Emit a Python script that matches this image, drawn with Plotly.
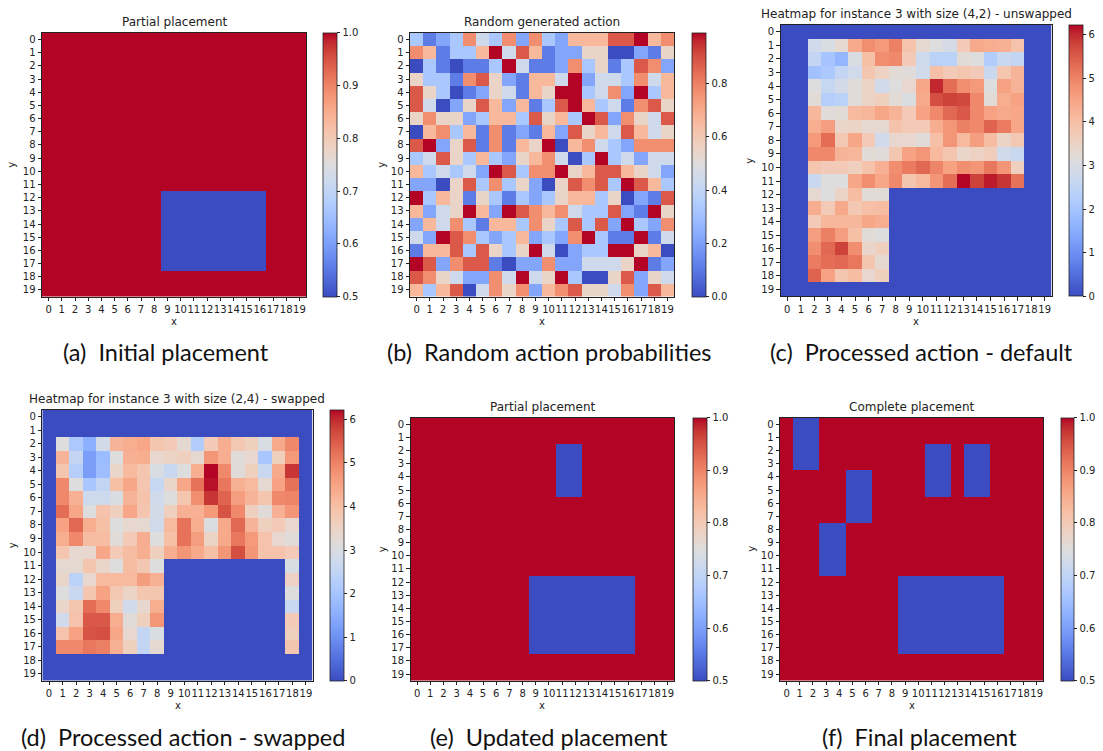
import plotly.graph_objects as go

W, H = 1103, 751

# matplotlib "coolwarm" colour table
CW = [
    (0.0, (0.2298057, 0.298717966, 0.753683153)),
    (0.03125, (0.26623388, 0.353094838, 0.801466763)),
    (0.0625, (0.30386891, 0.406535296, 0.84495867)),
    (0.09375, (0.342804478, 0.458757618, 0.883725899)),
    (0.125, (0.38301334, 0.50941904, 0.917387822)),
    (0.15625, (0.424369608, 0.558148092, 0.945619588)),
    (0.1875, (0.46666708, 0.604562568, 0.968154911)),
    (0.21875, (0.509635204, 0.648280772, 0.98478814)),
    (0.25, (0.552953156, 0.688929332, 0.995375608)),
    (0.28125, (0.596262162, 0.726149107, 0.999836203)),
    (0.3125, (0.639176211, 0.759599947, 0.998151185)),
    (0.34375, (0.681291281, 0.788964712, 0.990363227)),
    (0.375, (0.722193294, 0.813952739, 0.976574709)),
    (0.40625, (0.761464949, 0.834302879, 0.956945269)),
    (0.4375, (0.798691636, 0.849786142, 0.931688648)),
    (0.46875, (0.833466556, 0.860207984, 0.901068838)),
    (0.5, (0.865395197, 0.86541021, 0.865395561)),
    (0.53125, (0.897787179, 0.848937047, 0.820880546)),
    (0.5625, (0.924127593, 0.827384882, 0.774508472)),
    (0.59375, (0.944468518, 0.800927443, 0.726736146)),
    (0.625, (0.958852946, 0.769767752, 0.678007945)),
    (0.65625, (0.96732803, 0.734132809, 0.628751763)),
    (0.6875, (0.969954137, 0.694266682, 0.579375448)),
    (0.71875, (0.966811177, 0.650421156, 0.530263762)),
    (0.75, (0.958003065, 0.602842431, 0.481775914)),
    (0.78125, (0.943660866, 0.551750968, 0.434243684)),
    (0.8125, (0.923944917, 0.49730856, 0.387970225)),
    (0.84375, (0.89904617, 0.439559467, 0.343229596)),
    (0.875, (0.869186849, 0.378313092, 0.300267182)),
    (0.90625, (0.834620542, 0.312874446, 0.259301199)),
    (0.9375, (0.795631745, 0.24128379, 0.220525627)),
    (0.96875, (0.752534934, 0.157246067, 0.184115123)),
    (1.0, (0.705673158, 0.01555616, 0.150232812)),
]
COOLWARM = [[p, "rgb(%d,%d,%d)" % tuple(round(v * 255) for v in c)] for p, c in CW]

CELLS = list(range(20))

# ---- placements: free = 1.0, occupied = 0.5 ; blocks = (col, row, width, height)
FREE, TAKEN = 1.0, 0.5
A_BLOCKS = [(9, 12, 8, 6)]
E_BLOCKS = [(11, 2, 2, 4), (9, 12, 8, 6)]
F_BLOCKS = [(1, 0, 2, 4), (5, 4, 2, 4), (3, 8, 2, 4), (11, 2, 2, 4), (14, 2, 2, 4), (9, 12, 8, 6)]

# ---- (b) random action probabilities
B_ROWS = [
    [.33,.11,.22,.33,.77,.44,.33,.77,.22,.77,.33,.22,.66,.66,.66,.88,.88,.99,.66,.77],
    [.77,.66,.11,.33,.33,.66,.99,.44,.88,.66,.11,.22,.22,.55,.55,.00,.00,.22,.11,.55],
    [.00,.33,.11,.00,.11,.11,.33,.99,.44,.11,.11,.22,.77,.33,.55,.11,.33,.88,.77,.22],
    [.55,.33,.33,.11,.77,.88,.55,.22,.11,.66,.66,.44,.99,.22,.44,.44,.33,.77,.44,.66],
    [.88,.55,.33,.00,.11,.22,.55,.44,.11,.66,.55,.99,.99,.33,.44,.77,.22,.99,.33,.66],
    [.88,.44,.00,.22,.55,.88,.66,.22,.66,.11,.33,.88,.99,.66,.33,.44,.11,.77,.88,.55],
    [.55,.77,.55,.55,.22,.33,.66,.66,.33,.88,.55,.66,.33,.99,.88,.22,.77,.55,.44,.88],
    [.00,.66,.77,.33,.66,.11,.77,.11,.22,.11,.66,.22,.88,.55,.66,.44,.88,.66,.44,.55],
    [.88,.99,.22,.55,.88,.11,.77,.11,.66,.55,.99,.00,.66,.77,.44,.33,.22,.77,.77,.77],
    [.33,.44,.88,.55,.33,.66,.33,.22,.55,.66,.77,.44,.00,.33,.99,.33,.44,.22,.44,.44],
    [.66,.33,.44,.33,.44,.22,.99,.88,.33,.77,.77,.99,.55,.66,.88,.88,.66,.55,.44,.22],
    [.22,.22,.00,.55,.88,.33,.77,.33,.55,.22,.00,.55,.88,.77,.88,.33,.99,.88,.66,.33],
    [.99,.33,.66,.55,.11,.55,.33,.11,.33,.22,.33,.55,.66,.66,.33,.55,.00,.22,.11,.88],
    [.66,.22,.44,.55,.99,.66,.22,.99,.88,.77,.66,.77,.44,.33,.33,.88,.22,.11,.99,.55],
    [.22,.66,.44,.77,.33,.11,.66,.66,.33,.77,.55,.33,.88,.33,.88,.22,.99,.33,.22,.77],
    [.44,.22,.99,.88,.77,.33,.22,.33,.66,.22,.33,.22,.77,.99,.33,.11,.11,.99,.11,.44],
    [.11,.66,.66,.88,.33,.88,.55,.33,.55,.99,.44,.00,.22,.33,.33,.99,.99,.55,.66,.00],
    [.99,.88,.22,.77,.88,.88,.11,.00,.22,.22,.77,.22,.22,.44,.44,.44,.55,.99,.11,.22],
    [.88,.77,.55,.44,.22,.22,.77,.44,.99,.44,.55,.99,.33,.00,.00,.55,.88,.22,.55,.44],
    [.66,.33,.66,.88,.00,.44,.77,.55,.77,.22,.66,.77,.88,.55,.55,.44,.77,.22,.88,.66],
]
B_MAX = 0.99

HEAT_MAX = 6.22
Z = [0] * 20
C_LEVELS = [
    Z,
    [0,0,.45,.48,.53,.71,.78,.75,.81,.63,.53,.50,.47,.60,.71,.70,.69,.63,0,0],
    [0,0,.41,.32,.27,.48,.64,.78,.79,.60,.44,.38,.38,.52,.50,.36,.43,.41,0,0],
    [0,0,.31,.34,.41,.45,.62,.57,.52,.51,.45,.64,.60,.62,.60,.43,.62,.68,0,0],
    [0,0,.50,.42,.46,.51,.56,.45,.50,.54,.72,.97,.85,.78,.75,.50,.73,.68,0,0],
    [0,0,.52,.37,.38,.51,.56,.58,.52,.49,.71,.91,.93,.92,.79,.52,.70,.73,0,0],
    [0,0,.67,.51,.52,.66,.67,.72,.68,.60,.73,.79,.86,.89,.79,.73,.71,.72,0,0],
    [0,0,.70,.74,.55,.56,.53,.53,.63,.60,.60,.70,.76,.81,.79,.87,.82,.72,0,0],
    [0,0,.75,.85,.61,.72,.60,.45,.54,.54,.51,.64,.76,.66,.74,.65,.56,.61,0,0],
    [0,0,.79,.79,.68,.67,.52,.51,.61,.73,.76,.66,.62,.55,.57,.59,.45,.43,0,0],
    [0,0,.62,.60,.60,.58,.63,.69,.78,.82,.86,.80,.73,.78,.76,.83,.76,.58,0,0],
    [0,0,.43,.50,.50,.72,.78,.72,.79,.62,.66,.76,.85,1.0,.93,.98,.95,.84,0,0],
    [0,0,.53,.50,.56,.65,.52,.52,0,0,0,0,0,0,0,0,0,0,0,0],
    [0,0,.70,.60,.71,.61,.64,.65,0,0,0,0,0,0,0,0,0,0,0,0],
    [0,0,.60,.67,.67,.67,.72,.70,0,0,0,0,0,0,0,0,0,0,0,0],
    [0,0,.74,.81,.74,.64,.52,.50,0,0,0,0,0,0,0,0,0,0,0,0],
    [0,0,.78,.86,.93,.78,.55,.58,0,0,0,0,0,0,0,0,0,0,0,0],
    [0,0,.82,.85,.86,.83,.62,.53,0,0,0,0,0,0,0,0,0,0,0,0],
    [0,0,.87,.73,.62,.65,.54,.58,0,0,0,0,0,0,0,0,0,0,0,0],
    Z,
]
D_LEVELS = [
    Z,
    Z,
    [0,.50,.34,.25,.46,.68,.70,.72,.62,.60,.53,.36,.60,.70,.61,.58,.48,.71,.79,0],
    [0,.68,.41,.20,.29,.50,.69,.70,.54,.56,.58,.53,.76,.70,.51,.54,.33,.58,.75,0],
    [0,.62,.37,.20,.30,.55,.66,.62,.48,.43,.50,.70,1.0,.79,.51,.58,.43,.71,.95,0],
    [0,.79,.50,.33,.41,.64,.72,.62,.42,.55,.72,.84,.99,.83,.69,.66,.53,.73,.84,0],
    [0,.79,.69,.44,.44,.48,.68,.63,.45,.50,.62,.78,.95,.87,.74,.68,.62,.79,.80,0],
    [0,.85,.72,.50,.63,.58,.72,.62,.46,.58,.69,.69,.75,.90,.79,.58,.51,.69,.76,0],
    [0,.73,.86,.70,.64,.50,.54,.53,.45,.66,.84,.70,.49,.71,.86,.68,.58,.60,.54,0],
    [0,.70,.79,.65,.65,.51,.60,.70,.50,.64,.84,.74,.56,.71,.83,.75,.63,.54,.51,0],
    [0,.62,.54,.54,.72,.60,.65,.70,.58,.70,.76,.71,.64,.76,.91,.76,.63,.63,.60,0],
    [0,.53,.53,.62,.55,.50,.65,.61,.50,0,0,0,0,0,0,0,0,0,.48,0],
    [0,.55,.39,.54,.66,.66,.66,.74,.69,0,0,0,0,0,0,0,0,0,.57,0],
    [0,.50,.43,.62,.73,.61,.56,.62,.62,0,0,0,0,0,0,0,0,0,.50,0],
    [0,.55,.62,.85,.79,.58,.45,.54,.70,0,0,0,0,0,0,0,0,0,.43,0],
    [0,.45,.63,.89,.89,.70,.51,.58,.76,0,0,0,0,0,0,0,0,0,.60,0],
    [0,.63,.73,.90,.91,.72,.54,.41,.48,0,0,0,0,0,0,0,0,0,.58,0],
    [0,.79,.79,.83,.81,.69,.58,.41,.53,0,0,0,0,0,0,0,0,0,.62,0],
    Z,
    Z,
]

PLACE_TICKS = [0.5, 0.6, 0.7, 0.8, 0.9, 1.0]
PROB_TICKS = [0.0, 0.2, 0.4, 0.6, 0.8]
HEAT_TICKS = [0, 1, 2, 3, 4, 5, 6]

TITLES = ["Partial placement", "Random generated action",
          "Heatmap for instance 3 with size (4,2) - unswapped",
          "Heatmap for instance 3 with size (2,4) - swapped",
          "Partial placement", "Complete placement"]
CAPTIONS = ["(a)\u00a0\u00a0Initial placement", "(b)\u00a0\u00a0Random action probabilities",
            "(c)\u00a0\u00a0Processed action - default", "(d)\u00a0\u00a0Processed action - swapped",
            "(e)\u00a0\u00a0Updated placement", "(f)\u00a0\u00a0Final placement"]


def placement(blocks):
    z = [[FREE] * 20 for _ in range(20)]
    for c, r, w, h in blocks:
        for rr in range(r, r + h):
            for cc in range(c, c + w):
                z[rr][cc] = TAKEN
    return z


def scaled(levels, top):
    return [[v * top for v in row] for row in levels]


DATA = [
    (placement(A_BLOCKS), 0.5, 1.0, PLACE_TICKS, "%.1f"),
    (B_ROWS, 0.0, B_MAX, PROB_TICKS, "%.1f"),
    (scaled(C_LEVELS, HEAT_MAX), 0.0, HEAT_MAX, HEAT_TICKS, "%d"),
    (scaled(D_LEVELS, HEAT_MAX), 0.0, HEAT_MAX, HEAT_TICKS, "%d"),
    (placement(E_BLOCKS), 0.5, 1.0, PLACE_TICKS, "%.1f"),
    (placement(F_BLOCKS), 0.5, 1.0, PLACE_TICKS, "%.1f"),
]

# layout boxes in pixels: heatmap x0,x1,y0,y1 ; colourbar x0,x1 ; title(x,y) ; xlabel y ; ylabel x ; caption(x,y)
BOXES = [
    dict(hx=(42, 306), hy=(33, 296.5), cb=(323, 337), t=(174, 22), xl=322, yl=12, cap=(166, 352)),
    dict(hx=(410, 674), hy=(33, 296.5), cb=(691.5, 705), t=(542, 22), xl=322, yl=382, cap=(549, 352)),
    dict(hx=(780.5, 1051.5), hy=(25, 296.3), cb=(1069, 1082.5), t=(916, 14), xl=322, yl=750, cap=(921, 352)),
    dict(hx=(42.3, 312.7), hy=(410, 680.5), cb=(330, 344), t=(177, 399), xl=705, yl=12, cap=(183, 737)),
    dict(hx=(410.5, 674.3), hy=(417.7, 680.7), cb=(692.5, 706), t=(542, 406.5), xl=705, yl=382, cap=(549, 737)),
    dict(hx=(780, 1043.3), hy=(417.7, 680.7), cb=(1061, 1074.3), t=(911.5, 406.5), xl=705, yl=751.5, cap=(919, 737)),
]

FONT = "DejaVu Sans"
fig = go.Figure()
layout = dict(width=W, height=H, margin=dict(l=0, r=0, t=0, b=0),
              paper_bgcolor="white", plot_bgcolor="white", showlegend=False)
annotations = []

for i, ((z, zmin, zmax, cticks, fmt), b) in enumerate(zip(DATA, BOXES), start=1):
    x0, x1 = b["hx"]
    y0, y1 = b["hy"]
    c0, c1 = b["cb"]
    fig.add_trace(go.Heatmap(
        z=z, x=CELLS, y=CELLS, xaxis="x%d" % i, yaxis="y%d" % i,
        colorscale=COOLWARM, zmin=zmin, zmax=zmax, hoverinfo="skip",
        colorbar=dict(
            x=c0 / W, xanchor="left", xref="paper", xpad=0, ypad=0,
            y=1 - (y0 + y1) / 2 / H, yanchor="middle", yref="paper",
            len=(y1 - y0) / H, lenmode="fraction", thickness=c1 - c0,
            outlinewidth=0.8, outlinecolor="#222",
            tickvals=cticks, ticktext=[fmt % t for t in cticks],
            ticks="outside", ticklen=3.5, tickwidth=0.8, tickcolor="#222",
            tickfont=dict(family=FONT, size=10, color="#222"),
        ),
    ))
    ax = dict(
        range=[-0.5, 19.5], tickvals=CELLS, ticktext=[str(c) for c in CELLS],
        ticks="outside", ticklen=3.5, tickwidth=0.8, tickcolor="#222",
        showline=True, linecolor="#222", linewidth=0.8, mirror=True,
        showgrid=False, zeroline=False, fixedrange=True,
        tickfont=dict(family=FONT, size=10, color="#222"),
    )
    layout["xaxis%d" % i] = dict(ax, domain=[x0 / W, x1 / W], anchor="y%d" % i, tickangle=0)
    layout["yaxis%d" % i] = dict(ax, domain=[1 - y1 / H, 1 - y0 / H], anchor="x%d" % i,
                                 range=[19.5, -0.5])
    xc = (x0 + x1) / 2
    annotations.append(dict(text=TITLES[i - 1], x=b["t"][0] / W, y=1 - b["t"][1] / H,
                            xref="paper", yref="paper", showarrow=False,
                            xanchor="center", yanchor="middle",
                            font=dict(family=FONT, size=12, color="#222")))
    annotations.append(dict(text="x", x=xc / W, y=1 - b["xl"] / H, xref="paper", yref="paper",
                            showarrow=False, xanchor="center", yanchor="middle",
                            font=dict(family=FONT, size=10, color="#222")))
    annotations.append(dict(text="y", x=b["yl"] / W, y=1 - (y0 + y1) / 2 / H, xref="paper",
                            yref="paper", showarrow=False, xanchor="center", yanchor="middle",
                            textangle=-90, font=dict(family=FONT, size=10, color="#222")))
    annotations.append(dict(text=CAPTIONS[i - 1], x=b["cap"][0] / W, y=1 - b["cap"][1] / H,
                            xref="paper", yref="paper", showarrow=False,
                            xanchor="center", yanchor="middle",
                            font=dict(family="Lato", size=23.5, color="#111")))

layout["annotations"] = annotations
fig.update_layout(**layout)
fig.write_html("out.html")
